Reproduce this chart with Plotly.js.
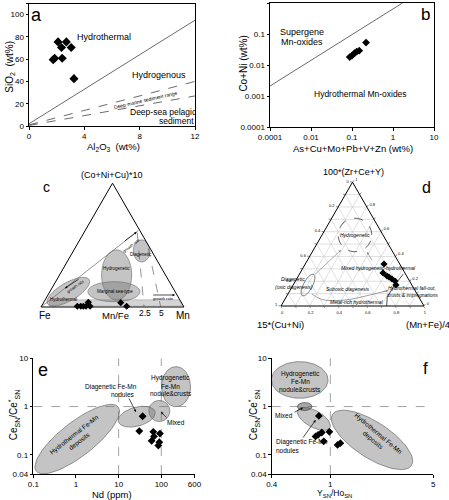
<!DOCTYPE html>
<html><head><meta charset="utf-8">
<script src="https://cdn.plot.ly/plotly-3.0.1.min.js"></script>
<style>html,body{margin:0;padding:0;background:#fff}#chart{width:449px;height:500px}</style>
</head><body><div id="chart"></div>
<script>
// ---------------- DATA ----------------
// Panel a: SiO2 vs Al2O3 (wt%)
const aAl2O3 = [2.1, 2.7, 2.35, 3.05, 1.85, 2.4, 1.75, 3.25];
const aSiO2  = [75.5, 75.5, 70.5, 70.5, 60.8, 60.8, 59.5, 42.5];
const aRefX = [0, 12];
const aHydrothermalBoundary = [2, 95];
const aDeepMarineUpper = [1, 40];
const aDeepMarineLower = [0.5, 27];
const aXTicks = [0, 4, 8, 12];
const aYTicks = [0, 20, 40, 60, 80, 100, 110];

// Panel b: Co+Ni vs As+Cu+Mo+Pb+V+Zn (wt%)
const bSum  = [0.088, 0.10, 0.115, 0.13, 0.15, 0.22];
const bCoNi = [0.018, 0.020, 0.024, 0.027, 0.029, 0.053];
const bBoundaryX = [0.001, 1.7];
const bBoundaryY = [0.0021, 1];
const bXTicks = [0.001, 0.01, 0.1, 1, 10];
const bXTickText = ['0.0001', '0.01', '0.1', '1', '10'];
const bYTicks = [0.0001, 0.001, 0.01, 0.1, 1];
const bYTickText = ['0.0001', '0.001', '0.01', '0.1', '1'];

// Panel c: ternary (Co+Ni+Cu)*10 - Fe - Mn (fractions)
const cCoNiCu = [0.006, 0.006, 0.006, 0.006, 0.038, 0.006, 0.035, 0.006];
const cFe     = [0.743, 0.719, 0.701, 0.682, 0.650, 0.654, 0.425, 0.398];
const cMn     = [0.251, 0.275, 0.293, 0.312, 0.312, 0.340, 0.540, 0.596];

// Panel d: ternary 100*(Zr+Ce+Y) - 15*(Cu+Ni) - (Mn+Fe)/4 (fractions)
const dZrCeY = [0.339, 0.267, 0.242, 0.234, 0.218, 0.202, 0.170];
const dCuNi  = [0.110, 0.153, 0.138, 0.128, 0.115, 0.102, 0.111];
const dMnFe  = [0.551, 0.580, 0.620, 0.638, 0.667, 0.696, 0.719];
const dTicks = [0, 0.1, 0.2, 0.3, 0.4, 0.5, 0.6, 0.7, 0.8, 0.9, 1];

// Panel e: CeSN/Ce*SN vs Nd (ppm)
const eNd = [36.5, 30.5, 64.9, 93, 67.3, 59.3, 89.8, 85];
const eCe = [0.63, 0.31, 0.30, 0.276, 0.24, 0.195, 0.183, 0.156];
const eNdRefs = [10, 100];
const eXTicks = [0.1, 1, 10, 100, 600];
const ceRef = 1;
const ceTicks = [0.04, 0.1, 1, 10];

// Panel f: CeSN/Ce*SN vs YSN/HoSN
const fYHo = [0.836, 0.875, 0.826, 0.794, 0.902, 0.985, 1.12, 1.17];
const fCe  = [0.64, 0.29, 0.26, 0.24, 0.19, 0.30, 0.16, 0.174];
const fYHoRef = 1;
const fXTicks = [0.4, 1, 5];

// ---------------- GEOMETRY / HELPERS ----------------
const W = 449, H = 500;
const FONT = 'Liberation Sans, Arial, sans-serif';
const GA = {x: [29, 195], y: [3.5, 126]};
const GB = {x: [270, 434], y: [3, 127]};
const GE = {x: [33.3, 194.5], y: [358.3, 474]};
const GF = {x: [271.7, 433.3], y: [358.3, 474]};
const GC = {x: [41, 184], y: [183.2, 307]};
const GD = {x: [281, 424], y: [182.2, 306]};
const E_XR = [-1, Math.log10(600)];
const CE_YR = [Math.log10(0.04), 1];
const F_XR = [Math.log10(0.4), Math.log10(5)];

function dom(g) { return {x: [g.x[0] / W, g.x[1] / W], y: [1 - g.y[1] / H, 1 - g.y[0] / H]}; }

const traces = [];
const ELL_FILL = 'rgba(115,115,115,0.42)';
const ELL_LINE = '#777';

function line(xa, ya, x, y, extra) {
  traces.push(Object.assign({type: 'scatter', mode: 'lines', x: x, y: y, xaxis: xa, yaxis: ya,
    hoverinfo: 'skip', line: {color: '#444', width: 0.8}}, extra || {}));
}
function pts(xa, ya, x, y, size) {
  traces.push({type: 'scatter', mode: 'markers', x: x, y: y, xaxis: xa, yaxis: ya, hoverinfo: 'skip',
    cliponaxis: false, marker: {symbol: 'diamond', size: size, color: '#000'}});
}
function ellPts(X, Y, rx, ry, ang, n) {
  n = n || 72; const th = ang * Math.PI / 180, out = [];
  for (let i = 0; i <= n; i++) {
    const t = 2 * Math.PI * i / n, ex = rx * Math.cos(t), ey = ry * Math.sin(t);
    out.push([X + ex * Math.cos(th) - ey * Math.sin(th), Y + ex * Math.sin(th) + ey * Math.cos(th)]);
  }
  return out;
}
// ellipse on log-log axes: centre in data units, radii in pixels
function logEll(xa, ya, g, xr, yr, cx, cy, rx, ry, ang, fill, lineColor) {
  const dpx = (g.x[1] - g.x[0]) / (xr[1] - xr[0]);
  const dpy = (g.y[1] - g.y[0]) / (yr[1] - yr[0]);
  const p = ellPts(0, 0, rx, ry, ang);
  const x = p.map(q => Math.pow(10, Math.log10(cx) + q[0] / dpx));
  const y = p.map(q => Math.pow(10, Math.log10(cy) + q[1] / dpy));
  traces.push({type: 'scatter', mode: 'lines', x: x, y: y, xaxis: xa, yaxis: ya, hoverinfo: 'skip',
    fill: 'toself', fillcolor: fill || ELL_FILL, line: {color: lineColor || ELL_LINE, width: 0.8}});
}
// ternary helpers: X along base (0..1), Y upward in same units
const S3 = Math.sqrt(3) / 2;
function tern(X, Y) { const a = Y / S3; const c = X - a / 2; return [a, 1 - a - c, c]; }
function ternTrace(sub, p, style) {
  const a = [], b = [], c = [];
  p.forEach(q => { const t = tern(q[0], q[1]); a.push(t[0]); b.push(t[1]); c.push(t[2]); });
  traces.push(Object.assign({type: 'scatterternary', subplot: sub, mode: 'lines', a: a, b: b, c: c,
    hoverinfo: 'skip'}, style));
}
function ternEll(sub, X, Y, rx, ry, ang, style) { ternTrace(sub, ellPts(X, Y, rx, ry, ang), style); }

const ann = [];
function txt(px, py, text, size, extra) {
  ann.push(Object.assign({xref: 'paper', yref: 'paper', x: px / W, y: 1 - py / H, text: text,
    showarrow: false, xanchor: 'center', yanchor: 'middle',
    font: {family: FONT, size: size, color: '#000'}}, extra || {}));
}
function arrow(tx, ty, hx, hy, color, extra) {
  ann.push(Object.assign({xref: 'paper', yref: 'paper', x: hx / W, y: 1 - hy / H, ax: tx - hx, ay: ty - hy,
    text: '', showarrow: true, arrowhead: 2, arrowsize: 0.7, arrowwidth: 0.7, arrowcolor: color || '#000'}, extra || {}));
}

// ---------------- PANEL a ----------------
line('x', 'y', aRefX, aHydrothermalBoundary);
line('x', 'y', aRefX, aDeepMarineUpper, {line: {color: '#444', width: 0.8, dash: 'dash'}});
line('x', 'y', aRefX, aDeepMarineLower, {line: {color: '#444', width: 0.8, dash: 'dash'}});
pts('x', 'y', aAl2O3, aSiO2, 7);

// ---------------- PANEL b ----------------
line('x2', 'y2', bBoundaryX, bBoundaryY);
pts('x2', 'y2', bSum, bCoNi, 6);

// ---------------- PANEL c ----------------
ternTrace('ternary', [[0.06, 0.008], [0.99, 0.008], [0.968, 0.05], [0.06, 0.05], [0.06, 0.008]],
  {fill: 'toself', fillcolor: 'rgba(150,150,150,0.4)', line: {color: '#999', width: 0.5}});
ternEll('ternary', 0.191, 0.107, 0.168, 0.063, 30, {fill: 'toself', fillcolor: ELL_FILL, line: {color: ELL_LINE, width: 0.7}});
ternEll('ternary', 0.529, 0.224, 0.105, 0.175, 0, {fill: 'toself', fillcolor: ELL_FILL, line: {color: ELL_LINE, width: 0.7}});
ternEll('ternary', 0.510, 0.107, 0.182, 0.070, 0, {fill: 'toself', fillcolor: ELL_FILL, line: {color: ELL_LINE, width: 0.7}});
ternEll('ternary', 0.704, 0.392, 0.058, 0.077, 0, {fill: 'toself', fillcolor: ELL_FILL, line: {color: ELL_LINE, width: 0.7}});
ternTrace('ternary', [[0.0, 0.0], [0.680, 0.534]], {line: {color: '#666', width: 0.7}});
ternTrace('ternary', [[0.673, 0.520], [0.720, 0.002]], {line: {color: '#666', width: 0.7, dash: 'dash'}});
ternTrace('ternary', [[0.750, 0.410], [0.837, 0.002]], {line: {color: '#666', width: 0.7, dash: 'dash'}});
traces.push({type: 'scatterternary', subplot: 'ternary', mode: 'markers', a: cCoNiCu, b: cFe, c: cMn,
  hoverinfo: 'skip', cliponaxis: false, marker: {symbol: 'diamond', size: 5.5, color: '#000'}});

// ---------------- PANEL d ----------------
ternEll('ternary2', 0.517, 0.497, 0.117, 0.117, 0, {line: {color: '#333', width: 0.8, dash: 'dash'}});
ternEll('ternary2', 0.189, 0.147, 0.084, 0.031, 62, {line: {color: '#555', width: 0.8}});
ternTrace('ternary2', [[0.855, 0.224], [0.790, 0.140], [0.743, 0.061], [0.739, 0.0]], {line: {color: '#222', width: 0.8}});
ternTrace('ternary2', [[0.217, 0.084], [0.287, 0.045], [0.448, 0.042], [0.622, 0.077], [0.734, 0.105]],
  {line: {color: '#888', width: 0.8, shape: 'spline'}});
traces.push({type: 'scatterternary', subplot: 'ternary2', mode: 'markers', a: dZrCeY, b: dCuNi, c: dMnFe,
  hoverinfo: 'skip', cliponaxis: false, marker: {symbol: 'diamond', size: 5.5, color: '#000'}});

// ---------------- PANEL e ----------------
eNdRefs.forEach(v => line('x3', 'y3', [v, v], [0.04, 10], {line: {color: '#999', width: 0.9, dash: 'dash'}}));
line('x3', 'y3', [0.1, 600], [ceRef, ceRef], {line: {color: '#999', width: 0.9, dash: 'dash'}});
logEll('x3', 'y3', GE, E_XR, CE_YR, 1.07, 0.212, 52, 17, 38);
logEll('x3', 'y3', GE, E_XR, CE_YR, 26.5, 0.617, 19, 9.5, 15);
logEll('x3', 'y3', GE, E_XR, CE_YR, 221, 2.58, 14.5, 20, 0);
logEll('x3', 'y3', GE, E_XR, CE_YR, 89.8, 0.81, 10.5, 10.5, 0, 'rgba(110,110,110,0.42)');
pts('x3', 'y3', eNd, eCe, 6);

// ---------------- PANEL f ----------------
line('x4', 'y4', [fYHoRef, fYHoRef], [0.04, 10], {line: {color: '#999', width: 0.9, dash: 'dash'}});
line('x4', 'y4', [0.4, 5], [ceRef, ceRef], {line: {color: '#999', width: 0.9, dash: 'dash'}});
logEll('x4', 'y4', GF, F_XR, CE_YR, 0.62, 3.56, 28.3, 18.3, 0);
logEll('x4', 'y4', GF, F_XR, CE_YR, 0.773, 0.556, 18.3, 8.3, -29);
logEll('x4', 'y4', GF, F_XR, CE_YR, 1.92, 0.204, 47, 18, -33);
logEll('x4', 'y4', GF, F_XR, CE_YR, 0.67, 1.0, 7.3, 4, 0, 'rgba(80,80,80,0.5)', '#555');
pts('x4', 'y4', fYHo, fCe, 6);

// ---------------- ANNOTATIONS ----------------
// a
txt(36.7, 15, 'a', 18);
txt(104, 36.7, 'Hydrothermal', 9);
txt(159, 75.3, 'Hydrogenous', 9);
txt(145, 99.5, 'Deep-marine sediment range', 5, {textangle: -13});
txt(163.3, 112.3, 'Deep-sea pelagic', 8.5);
txt(176.7, 121, 'sediment', 8.5);
txt(10, 66.7, 'SiO<sub>2</sub>  (wt%)', 10, {textangle: -90});
txt(113, 147.5, 'Al<sub>2</sub>O<sub>3</sub>  (wt%)', 9.5);
// b
txt(425, 14, 'b', 17);
txt(302, 32.3, 'Supergene', 9);
txt(302, 41.7, 'Mn-oxides', 9);
txt(360, 94.3, 'Hydrothermal Mn-oxides', 8.5);
txt(243.3, 63.3, 'Co+Ni (wt%)', 10, {textangle: -90});
txt(353.3, 148, 'As+Cu+Mo+Pb+V+Zn (wt%)', 9.5);
// c
txt(46.7, 187.3, 'c', 14);
txt(111.7, 175, '(Co+Ni+Cu)*10', 9);
txt(45, 315.5, 'Fe', 10);
txt(115, 315.5, 'Mn/Fe', 9.5);
txt(144.5, 313, '2.5', 8.5);
txt(161.5, 313, '5', 8.5);
txt(182.7, 315.5, 'Mn', 10);
txt(63.3, 299, 'Hydrothermal', 4.5);
txt(115, 291, 'Marginal sea-type', 4.5);
txt(116.7, 268.3, 'Hydrogenetic', 4.5);
txt(141, 254.3, 'Diagenetic', 4.5);
txt(131, 245, 'growth rate', 4, {textangle: -38});
arrow(123.3, 242, 136.7, 232);
txt(75, 286, 'growth rate', 4, {textangle: -35});
arrow(80, 278.3, 65, 288.3);
txt(163.3, 298, 'growth rate', 4);
arrow(151.7, 295, 175, 295);
// d
txt(353, 172, '100*(Zr+Ce+Y)', 9);
txt(426, 187, 'd', 16);
txt(280, 324, '15*(Cu+Ni)', 9.5);
txt(428, 324, '(Mn+Fe)/4', 9.5);
txt(355, 235, '<i>Hydrogenetic</i>', 5);
txt(378.3, 268.3, '<i>Mixed hydrogenetic-hydrothermal</i>', 5);
txt(293.3, 279, '<i>Diagenetic</i>', 5);
txt(294, 287.3, '<i>(oxic diagenesis)</i>', 5);
txt(348.3, 289.3, '<i>Suboxic diagenesis</i>', 5);
txt(356.7, 302.3, '<i>Metal-rich hydrothermal</i>', 5);
txt(412, 288.3, '<i>Hydrothermal fall-out,</i>', 5);
txt(412, 295, '<i>crusts &amp; impregnations</i>', 5);
arrow(313.3, 276, 341, 250, '#888');
arrow(381, 292, 388.5, 290.5, '#888');
arrow(373, 262, 367, 252, '#888');
// e
txt(43.3, 370, 'e', 18);
txt(111, 386.7, 'Diagenetic Fe-Mn', 6.5);
txt(123.3, 394.3, 'nodules', 6.5);
arrow(128.3, 397, 136, 412);
txt(170.5, 378.3, 'Hydrogenetic', 6.5);
txt(170.5, 386, 'Fe-Mn', 6.5);
txt(170.5, 393.3, 'nodule&amp;crusts', 6.5);
txt(175.5, 422.3, 'Mixed', 6.5);
arrow(168, 419, 161, 412);
txt(76.7, 438.3, 'Hydrothermal Fe-Mn<br>deposits', 6.5, {textangle: -38});
txt(111.7, 494.5, 'Nd (ppm)', 9.5);
txt(13.3, 415, 'Ce<sub>SN</sub>/Ce<sup>*</sup><sub>SN</sub>', 10, {textangle: -90});
// f
txt(425, 368.3, 'f', 17);
txt(300, 374.3, 'Hydrogenetic', 6.5);
txt(300, 381.7, 'Fe-Mn', 6.5);
txt(300, 389.3, 'nodule&amp;crusts', 6.5);
txt(284.3, 415, 'Mixed', 6.5);
arrow(293, 413, 303, 407.7);
txt(274, 442.3, 'Diagenetic Fe-Mn', 6.5, {xanchor: 'left'});
txt(274, 450, 'nodules', 6.5, {xanchor: 'left'});
arrow(302, 439, 315.7, 420);
txt(376, 436.7, 'Hydrothermal Fe-Mn<br>deposits', 6.5, {textangle: 40});
txt(334, 493.5, 'Y<sub>SN</sub>/Ho<sub>SN</sub>', 8.5);
txt(253.3, 415, 'Ce<sub>SN</sub>/Ce<sup>*</sup><sub>SN</sub>', 10, {textangle: -90});

// ---------------- LAYOUT ----------------
const tickFont = {family: FONT, size: 8, color: '#000'};
function ax(extra) {
  return Object.assign({showgrid: false, zeroline: false, showline: true, linecolor: '#000', linewidth: 1,
    ticks: 'outside', ticklen: 2.5, tickwidth: 1, tickcolor: '#000', tickfont: tickFont, fixedrange: true,
    tickmode: 'array'}, extra);
}
function tAxisPlain() {
  return {showgrid: false, showticklabels: false, ticks: '', linecolor: '#000', linewidth: 1, title: {text: ' '}};
}
function tAxisGrid() {
  return {tickmode: 'array', tickvals: dTicks,
    ticktext: dTicks.map((v, i) => i % 2 === 0 ? String(Math.round((1 - v) * 10) / 10) : ''),
    ticks: 'outside', ticklen: 2, tickwidth: 0.6, tickcolor: '#555', tickfont: {family: FONT, size: 4, color: '#000'},
    showgrid: true, gridcolor: '#cfcfcf', gridwidth: 0.6, linecolor: '#000', linewidth: 1, title: {text: ' '}};
}
const layout = {
  width: W, height: H, margin: {l: 0, r: 0, t: 0, b: 0}, paper_bgcolor: '#fff', plot_bgcolor: 'rgba(0,0,0,0)',
  showlegend: false, font: {family: FONT, size: 8, color: '#000'},
  xaxis: ax({domain: dom(GA).x, anchor: 'y', range: [0, 12], tickvals: aXTicks, mirror: true}),
  yaxis: ax({domain: dom(GA).y, anchor: 'x', range: [0, 110], tickvals: aYTicks, mirror: true}),
  xaxis2: ax({domain: dom(GB).x, anchor: 'y2', type: 'log', range: [-3, 1], tickvals: bXTicks, ticktext: bXTickText, mirror: true}),
  yaxis2: ax({domain: dom(GB).y, anchor: 'x2', type: 'log', range: [-4, 0], tickvals: bYTicks, ticktext: bYTickText, mirror: true}),
  xaxis3: ax({domain: dom(GE).x, anchor: 'y3', type: 'log', range: E_XR, tickvals: eXTicks, ticktext: eXTicks.map(String)}),
  yaxis3: ax({domain: dom(GE).y, anchor: 'x3', type: 'log', range: CE_YR, tickvals: ceTicks, ticktext: ceTicks.map(String)}),
  xaxis4: ax({domain: dom(GF).x, anchor: 'y4', type: 'log', range: F_XR, tickvals: fXTicks, ticktext: fXTicks.map(String)}),
  yaxis4: ax({domain: dom(GF).y, anchor: 'x4', type: 'log', range: CE_YR, tickvals: ceTicks, ticktext: ceTicks.map(String)}),
  ternary: {domain: dom(GC), sum: 1, bgcolor: 'rgba(0,0,0,0)', aaxis: tAxisPlain(), baxis: tAxisPlain(), caxis: tAxisPlain()},
  ternary2: {domain: dom(GD), sum: 1, bgcolor: 'rgba(0,0,0,0)', aaxis: tAxisGrid(), baxis: tAxisGrid(), caxis: tAxisGrid()},
  annotations: ann
};
Plotly.newPlot('chart', traces, layout, {staticPlot: true, displayModeBar: false});
</script></body></html>
